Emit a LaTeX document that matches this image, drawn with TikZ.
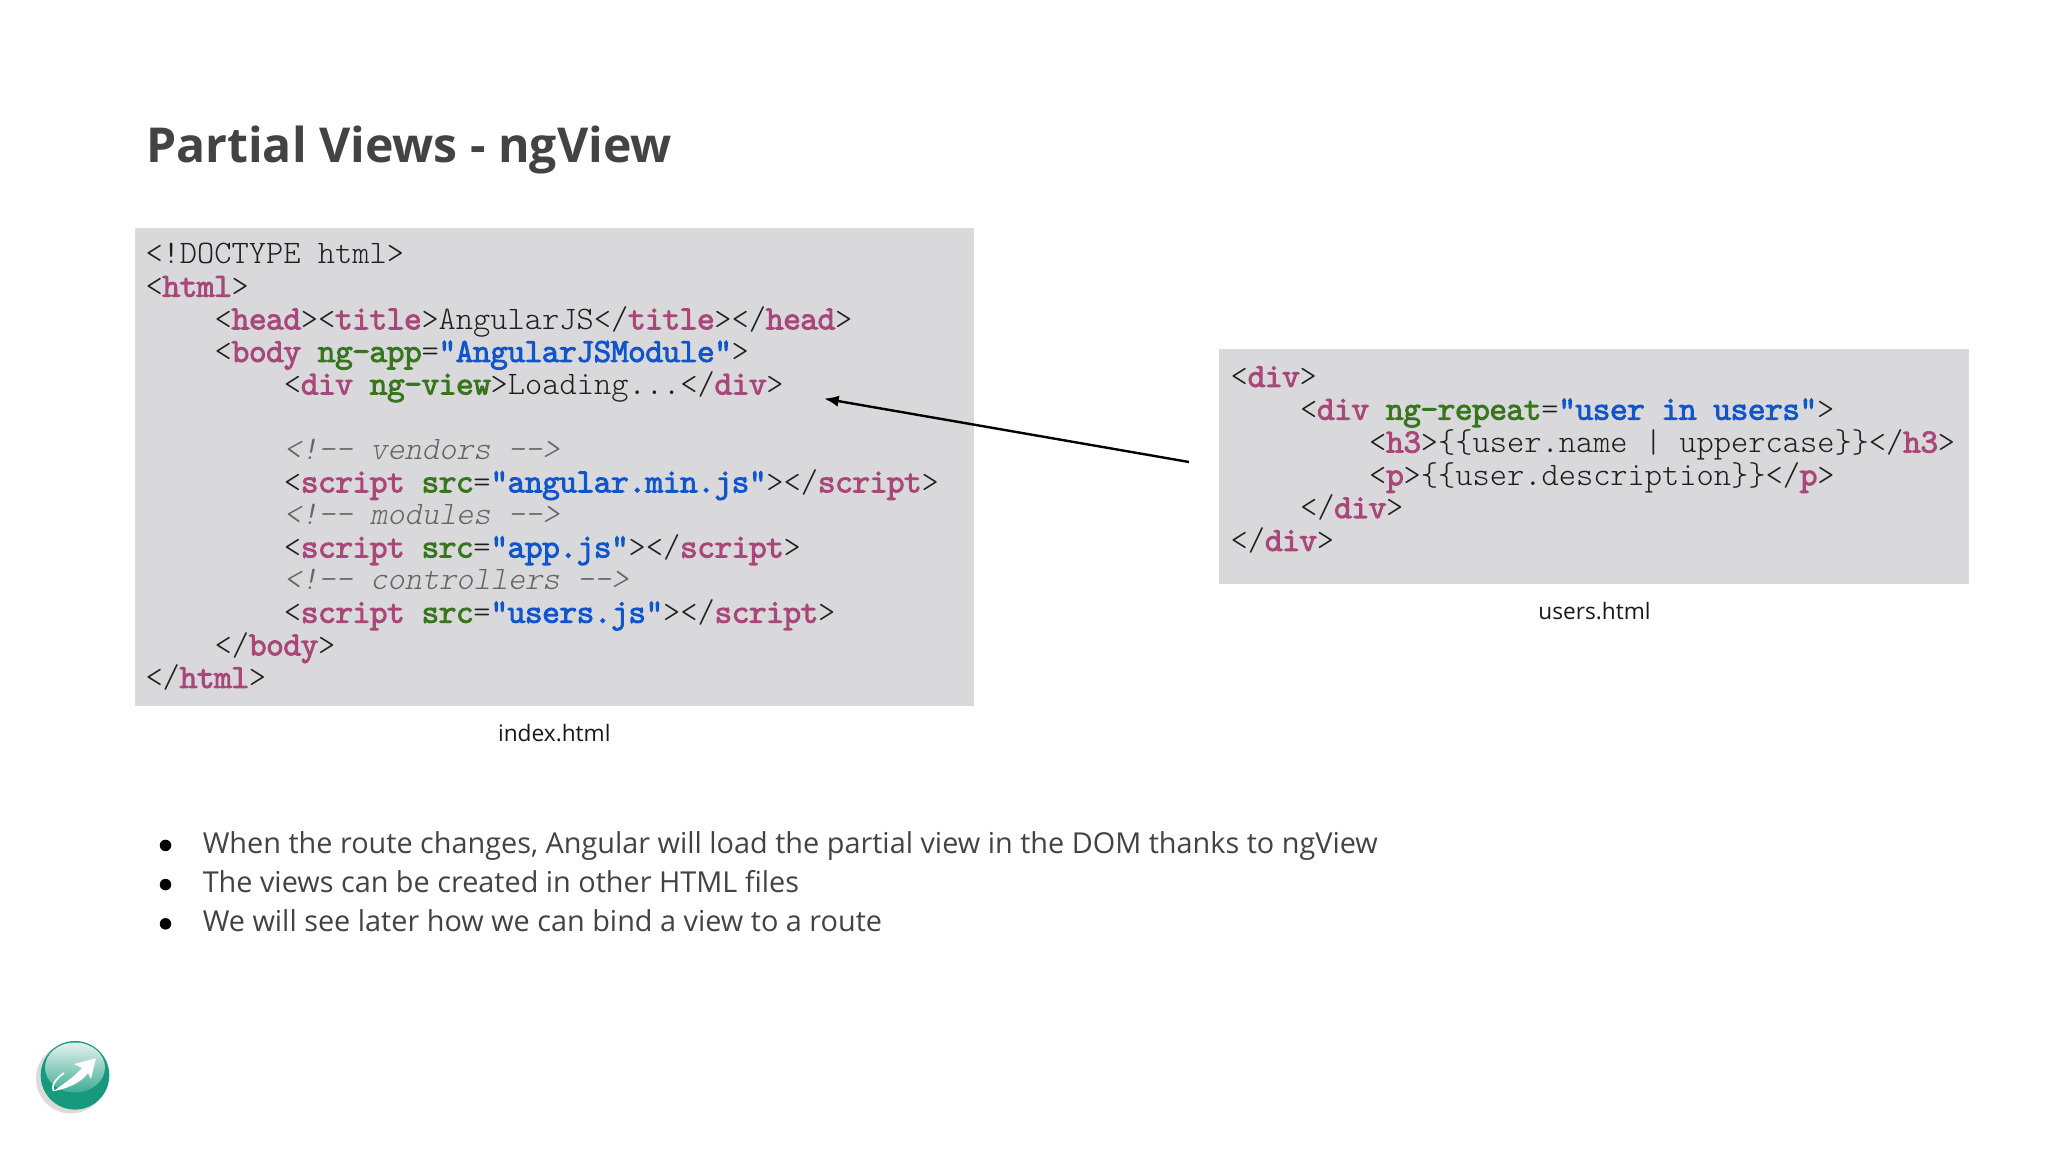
\documentclass[tikz,border=0pt]{standalone}
\usepackage{fontspec}
\setmainfont{Open Sans}
\newfontfamily\codereg{Latin Modern Mono Light}
\newfontfamily\codebold[FakeBold=4.5]{Latin Modern Mono Light}
\newfontfamily\codeital[FakeSlant=0.2]{Latin Modern Mono Light}
\usetikzlibrary{arrows.meta,calc,fadings}
\definecolor{boxgray}{HTML}{D9D9DB}
\definecolor{tagc}{HTML}{A9467A}
\definecolor{attrc}{HTML}{38761D}
\definecolor{strc}{HTML}{1155CC}
\definecolor{comc}{HTML}{666666}
\definecolor{inkc}{HTML}{434343}
\definecolor{codec}{HTML}{1F1F1F}
\definecolor{logodark}{HTML}{17997D}
\definecolor{logomid}{HTML}{3FAD95}
\definecolor{logolight}{HTML}{E4F1EE}
\newcommand{\ctag}[1]{\textcolor{tagc}{\codebold #1}}
\newcommand{\cattr}[1]{\textcolor{attrc}{\codebold #1}}
\newcommand{\cstr}[1]{\textcolor{strc}{\codebold #1}}
\newcommand{\ccom}[1]{\textcolor{comc}{\codeital #1}}
\tikzset{
  x=0.75pt,y=-0.75pt,
  codebox/.style={fill=boxgray,draw=none,inner sep=0pt},
  code/.style={anchor=base west,yshift=-1pt,xshift=-0.6pt,inner sep=0pt,outer sep=0pt,text=codec,font=\codereg\fontsize{24.62pt}{29pt}\selectfont},
  codeb/.style={code,yshift=-1.7pt},
  caption/.style={anchor=base,inner sep=0pt,text=black!90,font=\fontsize{17pt}{21pt}\selectfont},
  bullettext/.style={anchor=base west,inner sep=0pt,text=inkc,font=\fontsize{21.62pt}{27pt}\selectfont},
  bulletdot/.style={circle,fill=black,inner sep=0pt,minimum size=11.5*0.75pt},
  titletext/.style={anchor=base west,inner sep=0pt,text=inkc,font=\bfseries\fontsize{36.1pt}{44pt}\selectfont},
  link/.style={draw=black,line width=1.8pt,-{Latex[length=11pt,width=8.5pt]}}
}
\begin{document}
\begin{tikzpicture}
\useasboundingbox (0,0) rectangle (2048,1152);
\fill[white] (0,0) rectangle (2048,1152);
\node[titletext] (title) at (146,162) {Partial Views - ngView};
\node[codebox,minimum width=839.5*0.75pt,minimum height=478*0.75pt,anchor=north west] (indexbox) at (134.5,228) {};
\node[codebox,minimum width=749.5*0.75pt,minimum height=235*0.75pt,anchor=north west] (usersbox) at (1219,349) {};
% index.html
\node[code] (a1) at (146.3,262.5) {<!DOCTYPE html>};
\node[code] (a2) at (146.3,295.1) {<\ctag{html}>};
\node[code] (a3) at (215.5,327.7) {<\ctag{head}><\ctag{title}>AngularJS</\ctag{title}></\ctag{head}>};
\node[code] (a4) at (215.5,360.3) {<\ctag{body} \cattr{ng-app}=\cstr{"AngularJSModule"}>};
\node[code] (a5) at (284.7,392.9) {<\ctag{div} \cattr{ng-view}>Loading...</\ctag{div}>};
\node[code] (a7) at (284.7,458.1) {\ccom{<!-{}- vendors -{}->}};
\node[code] (a8) at (284.7,490.7) {<\ctag{script} \cattr{src}=\cstr{"angular.min.js"}></\ctag{script}>};
\node[code] (a9) at (284.7,523.3) {\ccom{<!-{}- modules -{}->}};
\node[code] (a10) at (284.7,555.9) {<\ctag{script} \cattr{src}=\cstr{"app.js"}></\ctag{script}>};
\node[code] (a11) at (284.7,588.5) {\ccom{<!-{}- controllers -{}->}};
\node[code] (a12) at (284.7,621.1) {<\ctag{script} \cattr{src}=\cstr{"users.js"}></\ctag{script}>};
\node[code] (a13) at (215.5,653.7) {</\ctag{body}>};
\node[code] (a14) at (146.3,686.3) {</\ctag{html}>};
% users.html
\node[codeb] (b1) at (1231.5,383) {<\ctag{div}>};
\node[codeb] (b2) at (1300.8,415.8) {<\ctag{div} \cattr{ng-repeat}=\cstr{"user in users"}>};
\node[codeb] (b3) at (1370,448.6) {<\ctag{h3}>\{\{user.name | uppercase\}\}</\ctag{h3}>};
\node[codeb] (b4) at (1370,481.4) {<\ctag{p}>\{\{user.description\}\}</\ctag{p}>};
\node[codeb] (b5) at (1300.8,514.2) {</\ctag{div}>};
\node[codeb] (b6) at (1231.5,547) {</\ctag{div}>};
\node[caption] (cap1) at (554.3,741.5) {index.html};
\node[caption] (cap2) at (1594.5,619.7) {users.html};
% arrow
\coordinate (tail) at (1189,462);
\coordinate (tip) at (824,398.6);
\draw[link] (tail) -- (tip);
% bullets
\node[bulletdot] (d1) at (165.5,845.4) {};
\node[bulletdot] (d2) at (165.5,884.6) {};
\node[bulletdot] (d3) at (165.5,923.8) {};
\node[bullettext] (t1) at (202.5,853.4) {When the route changes, Angular will load the partial view in the DOM thanks to ngView};
\node[bullettext] (t2) at (202.5,892.6) {The views can be created in other HTML files};
\node[bullettext] (t3) at (202.5,931.8) {We will see later how we can bind a view to a route};
% logo
\fill[black!14] (71,1078.5) circle (35);
\fill[logodark] (75,1075.3) circle (34.3);
\shade[top color=logolight,bottom color=logomid] (75,1067.5) ellipse (30 and 25);
\fill[white] (96,1058.3) -- (74,1064) -- (82,1068)
  .. controls (72,1079) and (60,1086) .. (54,1091)
  .. controls (66,1089) and (81,1083) .. (88,1073) -- (91,1079) -- cycle;
\draw[white,line width=1.3pt] (54,1091) .. controls (50,1085) and (58,1077) .. (64,1073);
\end{tikzpicture}
\end{document}
